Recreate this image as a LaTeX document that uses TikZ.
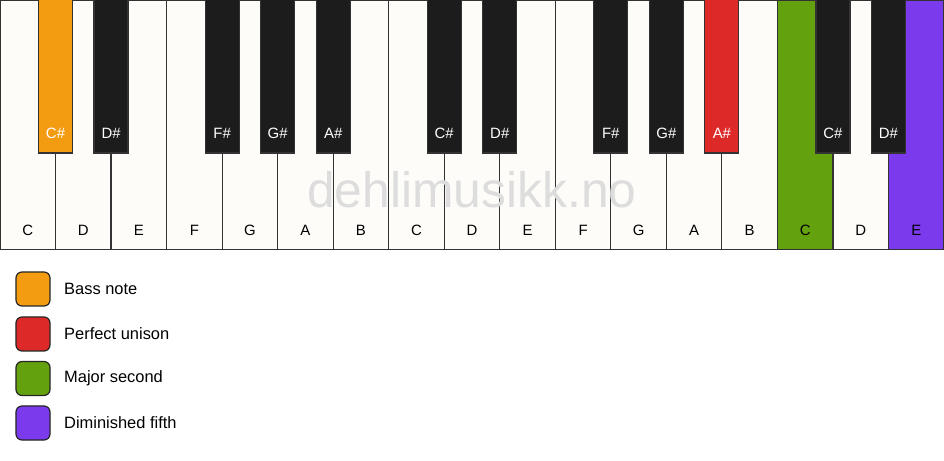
\documentclass[tikz,border=0pt]{standalone}
\usepackage{fontspec}
\setmainfont{Liberation Sans}
\definecolor{wk}{HTML}{FDFCF8}
\definecolor{bk}{HTML}{1C1C1C}
\definecolor{edge}{HTML}{333333}
\definecolor{cOr}{HTML}{F39C12}
\definecolor{cRe}{HTML}{DE2929}
\definecolor{cGr}{HTML}{64A10F}
\definecolor{cPu}{HTML}{7C3AED}
\definecolor{wm}{HTML}{DDDDDD}
\begin{document}
\begin{tikzpicture}[x=1bp,y=-1bp,
  whitekey/.style={draw=edge,line width=1.2bp,fill=wk},
  blackkey/.style={draw=edge,line width=1.2bp,fill=bk},
  wlabel/.style={font=\fontsize{15}{15}\selectfont,text=black,inner sep=0pt},
  blabel/.style={font=\fontsize{15}{15}\selectfont,text=white,inner sep=0pt},
  legbox/.style={draw=black!85,line width=1.2bp,rounded corners=6bp,minimum width=34bp,minimum height=34bp,inner sep=0pt},
  legtext/.style={font=\fontsize{16.5}{16.5}\selectfont,anchor=west,inner sep=0pt}]
\useasboundingbox (0,0) rectangle (944,461);
\fill[white] (0,0) rectangle (944,461);
\def\w{55.5294}
% white keys
\foreach \i/\n/\c in {0/C/wk,1/D/wk,2/E/wk,3/F/wk,4/G/wk,5/A/wk,6/B/wk,7/C/wk,8/D/wk,9/E/wk,10/F/wk,11/G/wk,12/A/wk,13/B/wk,14/C/cGr,15/D/wk,16/E/cPu}{
  \draw[whitekey,fill=\c] ({\i*\w},0.6) rectangle ({(\i+1)*\w},249.4);
  \node[wlabel] (w\i) at ({(\i+0.5)*\w},230) {\n};
}
% watermark
\node[font=\fontsize{50}{50}\selectfont,text=wm,inner sep=0pt,anchor=base] (wm) at (472,208) {dehlimusikk.no};
% black keys
\foreach \b/\n/\c in {1/C\#/cOr,2/D\#/bk,4/F\#/bk,5/G\#/bk,6/A\#/bk,8/C\#/bk,9/D\#/bk,11/F\#/bk,12/G\#/bk,13/A\#/cRe,15/C\#/bk,16/D\#/bk}{
  \draw[blackkey,fill=\c] ({\b*\w-17},-1) rectangle ({\b*\w+17},153);
  \node[blabel] (b\b) at ({\b*\w},133) {\n};
}
% legend
\node[legbox,fill=cOr] (l1) at (33,289) {};
\node[legtext] (t1) at (64,289) {Bass note};
\node[legbox,fill=cRe] (l2) at (33,334) {};
\node[legtext] (t2) at (64,334) {Perfect unison};
\node[legbox,fill=cGr] (l3) at (33,378.5) {};
\node[legtext] (t3) at (64,378.5) {Major second};
\node[legbox,fill=cPu] (l4) at (33,423) {};
\node[legtext] (t4) at (64,423) {Diminished fifth};
\end{tikzpicture}
\end{document}
